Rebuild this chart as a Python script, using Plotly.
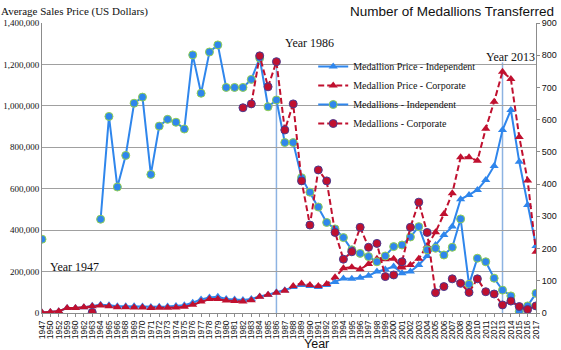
import plotly.graph_objects as go

years = ["1947", "1950", "1952", "1959", "1960", "1962", "1963", "1964", "1965", "1966", "1968"] + \
        [str(y) for y in range(1969, 2018)]

price_independent = [
    2500, 5000, 9000, 24000, 24000, 28000, 35000, 40000, 37000, 33000, 33000,
    32000, 31000, 29000, 30000, 31000, 34000, 38000, 50000, 65000, 75000,  # 1969-1978
    78000, 68000, 65000, 63000, 68000, 80000, 88000, 100000, 110000, 125000,  # 1979-1988
    135000, 130000, 125000, 135000, 150000, 167000, 165000, 170000, 180000, 200000,  # 1989-1998
    210000, 225000, 192000, 200000, 232000, 275000, 328000, 377000, 417000, 549000,  # 1999-2008
    570000, 594000, 642000, 710000, 883000, 980000, 730000, 521000, 323000  # 2009-2017
]

price_corporate = [
    2500, 5000, 9000, 24000, 24000, 28000, 32000, 36000, 33000, 28000, 28000,
    27000, 27000, 24000, 25000, 25000, 27000, 30000, 40000, 55000, 67000,  # 1969-1978
    67000, 60000, 58000, 55000, 62000, 78000, 88000, 98000, 108000, 130000,  # 1979-1988
    143000, 135000, 130000, 140000, 172000, 216000, 221000, 211000, 236000, 262000,  # 1989-1998
    259000, 262000, 220000, 232000, 262000, 325000, 390000, 478000, 578000, 752000,  # 1999-2008
    752000, 735000, 890000, 1020000, 1165000, 1130000, 850000, 640000, 296000  # 2009-2017
]

medallions_independent = [
    229, None, None, None, None, None, None, 291, 610, 391, 489,
    651, 670, 430, 580, 601, 592, 571, 801, 682, 810,  # 1969-1978
    832, 700, 700, 700, 725, 791, 640, 661, 529, 529,  # 1979-1988
    420, 375, 329, 281, 261, 234, 196, 185, 175, 159,  # 1989-1998
    177, 206, 211, 236, 268, 196, 201, 180, 204, 292,  # 1999-2008
    89, 170, 159, 108, 71, 53, 4, 22, 61  # 2009-2017
]

medallions_corporate = [
    None, None, None, None, None, None, 2, None, None, None, None,
    None, None, None, None, None, None, None, None, None, None,  # 1969-1978
    None, None, None, 637, 649, 798, 702, 780, 568, 649,  # 1979-1988
    410, 273, 444, 410, 250, 167, 190, 266, 204, 216,  # 1989-1998
    113, 118, 159, 266, 344, 250, 63, 82, 106, 92,  # 1999-2008
    64, 106, 66, 59, 25, 37, 20, 11, 22  # 2009-2017
]

marked_years = ["1947", "1986", "2013"]

BLUE = "#2F86EC"
RED = "#C0102F"
GREEN_EDGE = "#92D050"
PURPLE_EDGE = "#4B3B8F"
SERIF = "Liberation Serif"
SANS = "Liberation Sans"

fig = go.Figure()
fig.add_trace(go.Scatter(
    x=years, y=price_independent, name="Medallion Price - Independent",
    mode="lines+markers", line=dict(color=BLUE, width=2),
    marker=dict(symbol="triangle-up", size=8, color=BLUE), yaxis="y"))
fig.add_trace(go.Scatter(
    x=years, y=price_corporate, name="Medallion Price - Corporate",
    mode="lines+markers", line=dict(color=RED, width=2, dash="6px,3px"),
    marker=dict(symbol="triangle-up", size=8, color=RED), yaxis="y"))
fig.add_trace(go.Scatter(
    x=years, y=medallions_independent, name="Medallions - Independent",
    mode="lines+markers", line=dict(color=BLUE, width=2), connectgaps=False,
    marker=dict(symbol="circle", size=8, color=BLUE, line=dict(color=GREEN_EDGE, width=1)),
    yaxis="y2"))
fig.add_trace(go.Scatter(
    x=years, y=medallions_corporate, name="Medallions - Corporate",
    mode="lines+markers", line=dict(color=RED, width=2, dash="6px,3px"), connectgaps=False,
    marker=dict(symbol="circle", size=8, color=RED, line=dict(color=PURPLE_EDGE, width=1)),
    yaxis="y2"))

i47 = years.index(marked_years[0])
i86 = years.index(marked_years[1])
i13 = years.index(marked_years[2])

shapes = [
    dict(type="line", xref="x", yref="y", x0=i86, x1=i86, y0=0, y1=1230000,
         line=dict(color="#8DB3E2", width=1.5), layer="below"),
    dict(type="line", xref="x", yref="y", x0=i13, x1=i13, y0=0, y1=1210000,
         line=dict(color="#8DB3E2", width=1.5), layer="below"),
]

ann_font = dict(family=SERIF, size=12, color="#111")
annotations = [
    dict(text="Year " + marked_years[0], x=i47, y=222000, xref="x", yref="y", xanchor="left",
         xshift=6, showarrow=False, font=ann_font),
    dict(text="Year " + marked_years[1], x=i86, y=1303000, xref="x", yref="y", xanchor="left",
         xshift=7, showarrow=False, font=ann_font),
    dict(text="Year " + marked_years[2], x=i13, y=1235000, xref="x", yref="y", xanchor="center",
         xshift=8, showarrow=False, font=ann_font),
    dict(text="Average Sales Price (US Dollars)", x=0, y=1, xref="paper", yref="paper",
         xanchor="left", yanchor="bottom", xshift=-43, yshift=3, showarrow=False,
         font=dict(family=SERIF, size=11, color="#111")),
    dict(text="Number of Medallions Transferred", x=1, y=1, xref="paper", yref="paper",
         xanchor="right", yanchor="bottom", xshift=20, yshift=2, showarrow=False,
         font=dict(family=SANS, size=13.5, color="#111")),
    dict(text="Year", x=0.555, y=0, xref="paper", yref="paper",
         xanchor="center", yanchor="middle", yshift=-31, showarrow=False,
         font=dict(family=SANS, size=12.5, color="#111")),
]

fig.update_layout(
    width=561, height=350,
    margin=dict(l=42, r=25, t=23, b=37),
    paper_bgcolor="white", plot_bgcolor="white",
    showlegend=True,
    legend=dict(x=0.549, y=0.9, xanchor="left", yanchor="top",
                bgcolor="rgba(0,0,0,0)", font=dict(family=SERIF, size=10, color="#111"),
                tracegroupgap=0, itemwidth=30),
    xaxis=dict(type="category", range=[0, len(years) - 1], showgrid=False,
               tickmode="array", tickvals=years, ticktext=years,
               showline=True, linecolor="#8C8C8C", linewidth=1,
               ticks="outside", ticklen=3, tickcolor="#8C8C8C",
               tickangle=-90, tickfont=dict(family=SANS, size=8.5, color="#111"),
               zeroline=False, automargin=False),
    yaxis=dict(range=[0, 1400000], dtick=200000, tickformat=",d",
               showgrid=True, gridcolor="#A0A0A0", gridwidth=1.2,
               showline=True, linecolor="#8C8C8C", linewidth=1,
               ticks="", tickfont=dict(family=SERIF, size=9, color="#111"),
               zeroline=False, automargin=False),
    yaxis2=dict(range=[0, 900], dtick=100, overlaying="y", side="right",
                showgrid=False, showline=True, linecolor="#8C8C8C", linewidth=1,
                ticks="outside", ticklen=3, tickcolor="#8C8C8C",
                tickfont=dict(family=SANS, size=9, color="#111"),
                zeroline=False, automargin=False),
    shapes=shapes, annotations=annotations,
)

fig.write_html("out.html", config={"displayModeBar": False},
               post_script="document.body.style.margin='0';document.body.style.overflow='hidden';")
